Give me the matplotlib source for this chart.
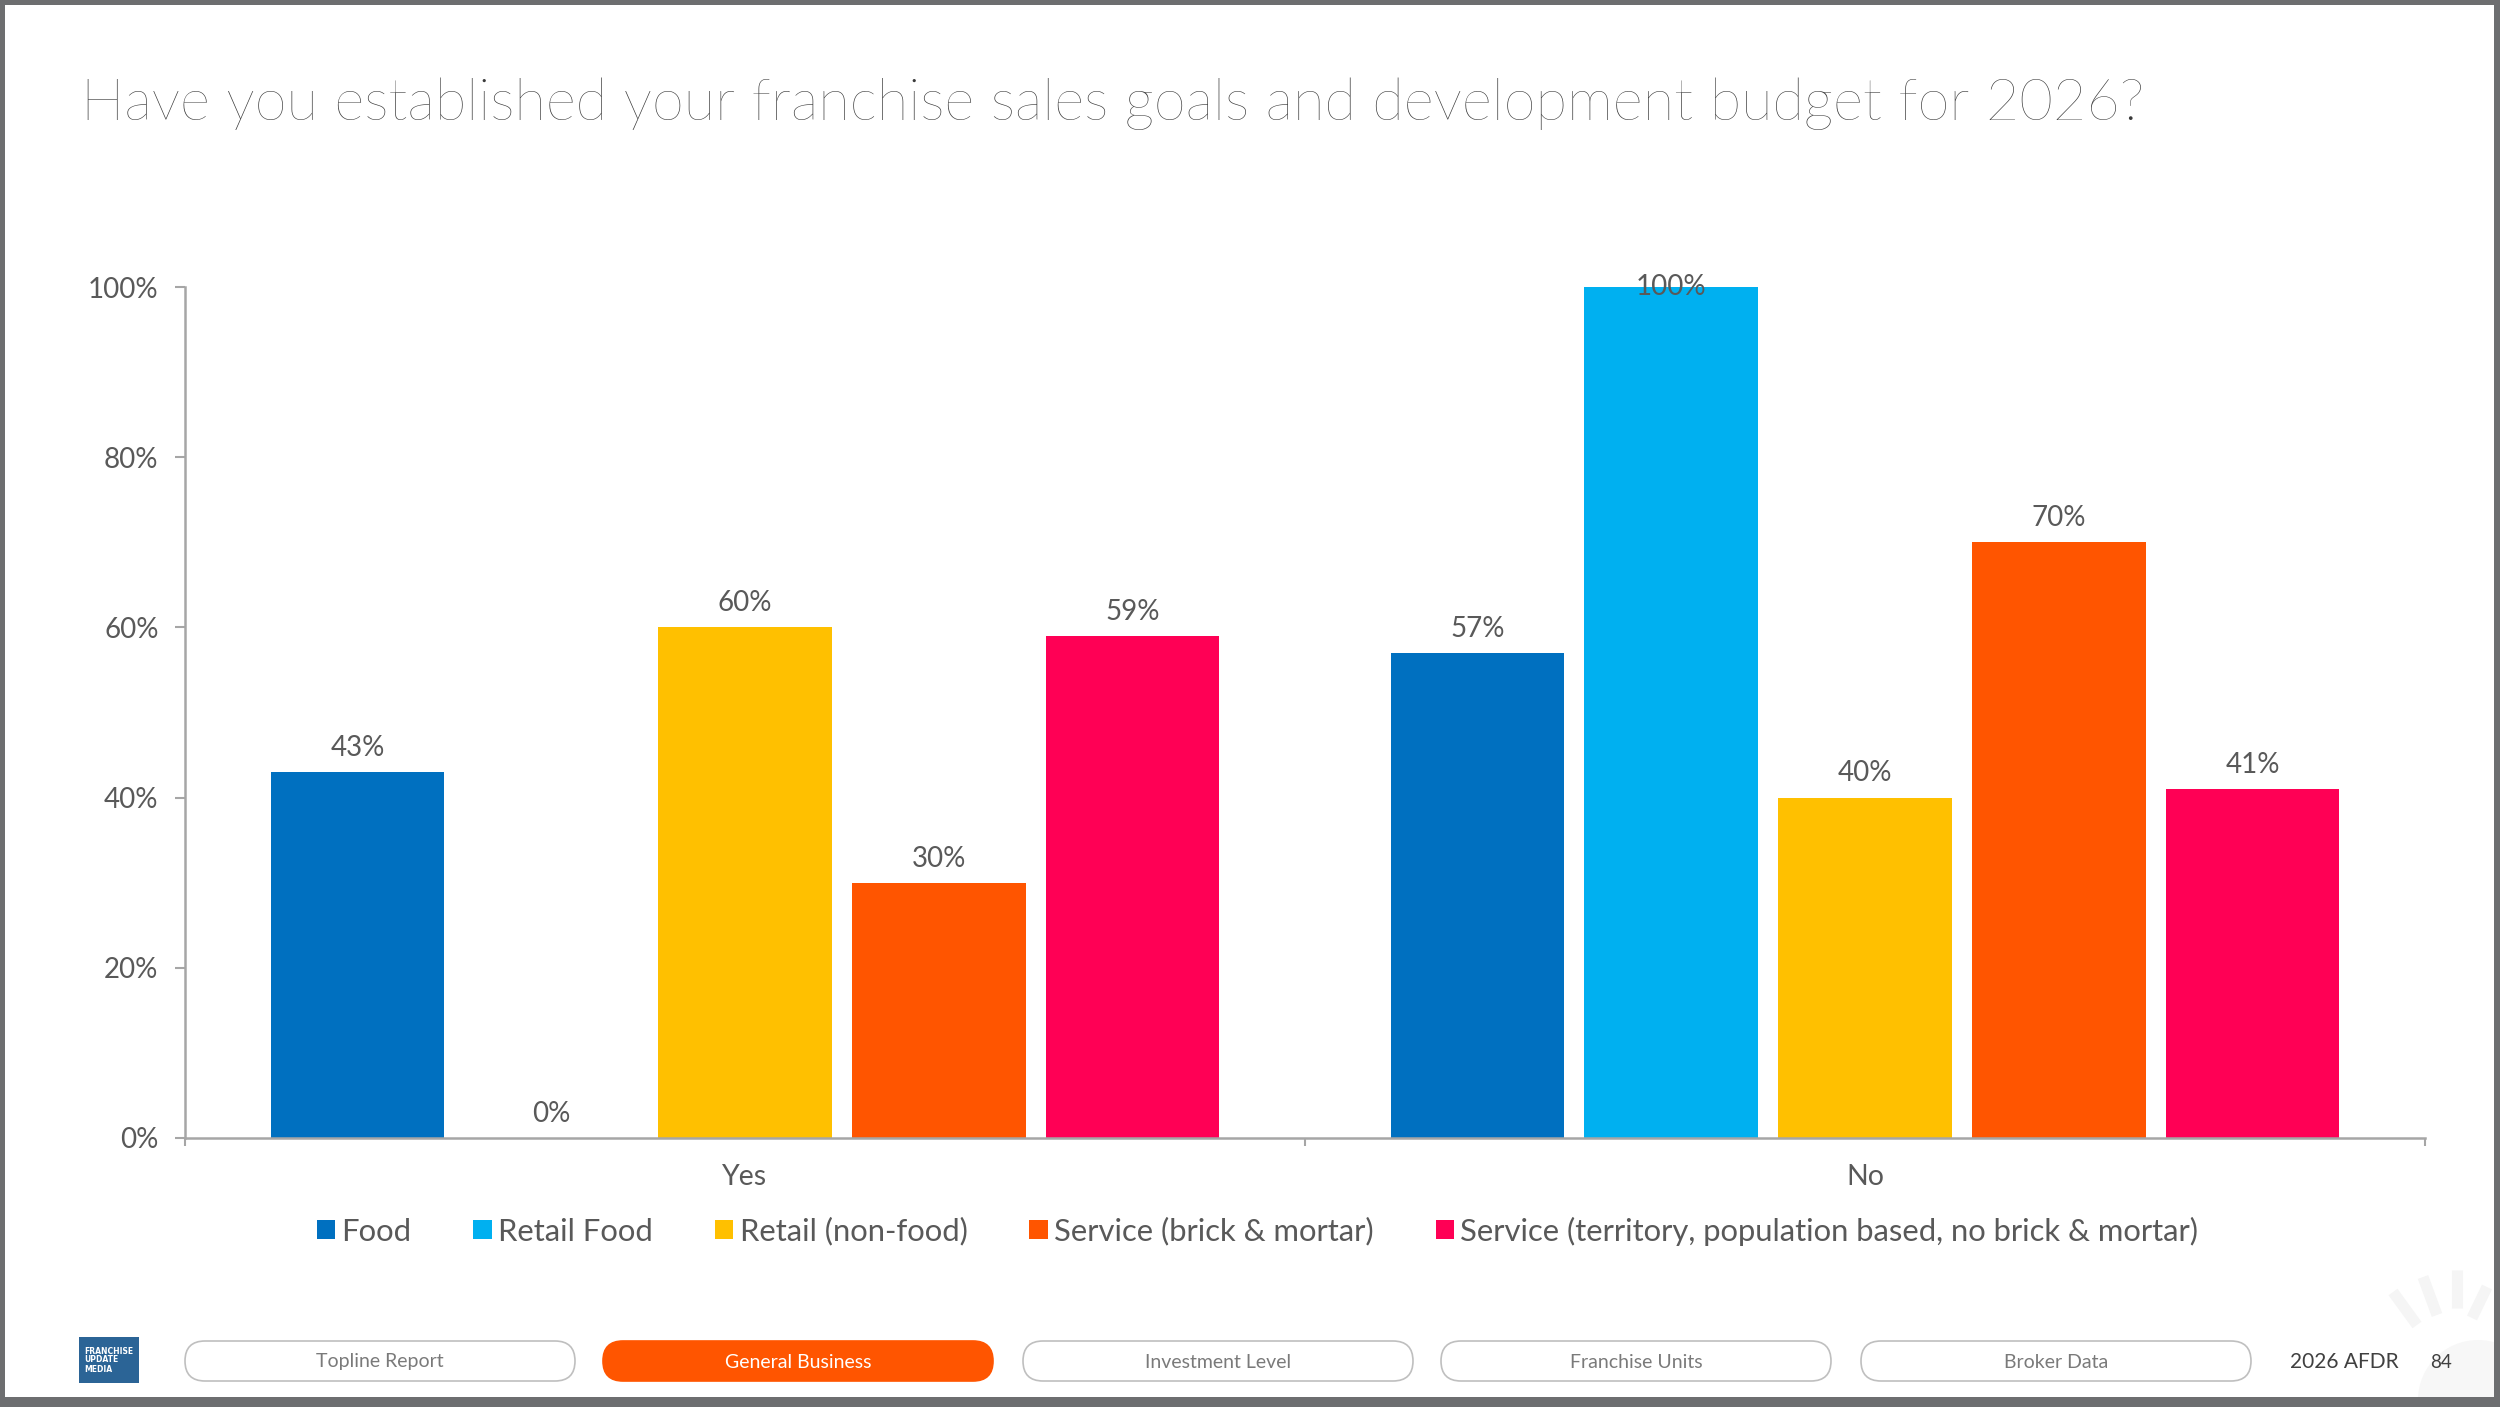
import numpy as np
import matplotlib.pyplot as plt
from matplotlib.patches import Rectangle, FancyBboxPatch, Circle

# data
groups = ['Yes', 'No']
series = ['Food', 'Retail Food', 'Retail (non-food)', 'Service (brick & mortar)',
          'Service (territory, population based, no brick & mortar)']
values = {
    'Food': [0.43, 0.57],
    'Retail Food': [0.00, 1.00],
    'Retail (non-food)': [0.60, 0.40],
    'Service (brick & mortar)': [0.30, 0.70],
    'Service (territory, population based, no brick & mortar)': [0.59, 0.41],
}
colors = ['#0070C0', '#00B0F0', '#FFC000', '#FF5500', '#FF0055']
y_ticks = [0, 0.2, 0.4, 0.6, 0.8, 1.0]
nav_tabs = ['Topline Report', 'General Business', 'Investment Level', 'Franchise Units', 'Broker Data']
active_tab = 'General Business'

W, H = 2500, 1407
plt.rcParams['font.family'] = ['Lato', 'DejaVu Sans']
fig = plt.figure(figsize=(W / 100, H / 100), dpi=100)

# overlay in pixel coordinates for slide decorations
deco = fig.add_axes([0, 0, 1, 1])
deco.set_xlim(0, W)
deco.set_ylim(H, 0)
deco.axis('off')

# faint icon bottom right
light = '#f5f5f5'
for (x0, y0, x1, y1) in [(2393, 1292, 2417, 1325), (2423, 1277, 2437, 1315),
                         (2457, 1270, 2457, 1308), (2487, 1287, 2472, 1318)]:
    deco.plot([x0, x1], [y0, y1], color=light, lw=8, solid_capstyle='butt')
deco.add_patch(Circle((2478, 1400), 60, color='#f7f7f7', lw=0))

# slide frame
gray = '#6d6e70'
deco.add_patch(Rectangle((0, 0), W, 5, color=gray, lw=0))
deco.add_patch(Rectangle((0, 0), 5, H, color=gray, lw=0))
deco.add_patch(Rectangle((W - 6, 0), 6, H, color=gray, lw=0))
deco.add_patch(Rectangle((0, H - 10), W, 10, color=gray, lw=0))

# title
deco.text(81, 104, 'Have you established your franchise sales goals and development budget for 2026?',
          fontsize=41.7, fontweight='light', color='#3a3a3a', va='center', ha='left')

# footer: logo, tabs, page info
deco.add_patch(Rectangle((79, 1337), 60, 46, color='#2b6496', lw=0))
deco.text(84, 1360, 'FRANCHISE\nUPDATE\nMEDIA', fontsize=5.5, fontweight='bold', color='white',
          va='center', ha='left', linespacing=1.0, family='Liberation Sans Narrow')
tab_x = [185, 603, 1023, 1441, 1861]
for x, name in zip(tab_x, nav_tabs):
    on = name == active_tab
    deco.add_patch(FancyBboxPatch((x, 1341), 390, 40, boxstyle='round,pad=0,rounding_size=20',
                                  fc='#FF5500' if on else 'white', ec='#FF5500' if on else '#bfbfbf',
                                  lw=1.2, zorder=2))
    deco.text(x + 195, 1362, name, fontsize=14, color='white' if on else '#7a7a7a',
              ha='center', va='center', zorder=3)
deco.text(2290, 1362, '2026 AFDR', fontsize=15, color='#404040', ha='left', va='center')
deco.text(2430, 1362, '84', fontsize=13.5, color='#404040', ha='left', va='center')

# chart
ax = fig.add_axes([185 / W, 1 - 1138 / H, (2425 - 185) / W, (1138 - 287) / H])
x = np.arange(len(groups))
step, width = 0.173, 0.155
for i, (name, c) in enumerate(zip(series, colors)):
    pos = x + (i - 2) * step
    vals = values[name]
    ax.bar(pos, vals, width, color=c, label=name, zorder=2)
    for p, v in zip(pos, vals):
        if v + 0.04 > 1.0:
            ax.text(p, 1.0, f'{v:.0%}', ha='center', va='center', fontsize=20, color='#595959', clip_on=False)
        else:
            ax.annotate(f'{v:.0%}', (p, v), xytext=(0, 8), textcoords='offset points',
                        ha='center', va='bottom', fontsize=20, color='#595959')

ax.set_xlim(-0.5, 1.5)
ax.set_ylim(0, 1.0)
ax.set_yticks(y_ticks)
ax.set_yticklabels([f'{t:.0%}' for t in y_ticks])
ax.set_xticks(x)
ax.set_xticklabels(groups)
ax.set_xticks([-0.5, 0.5, 1.5], minor=True)
for s in ['top', 'right']:
    ax.spines[s].set_visible(False)
for s in ['left', 'bottom']:
    ax.spines[s].set_color('#a6a6a6')
    ax.spines[s].set_linewidth(1.8)
ax.tick_params(axis='y', length=7, width=1.5, color='#a6a6a6', pad=12, labelsize=20, labelcolor='#595959')
ax.tick_params(axis='x', which='major', length=0, pad=19, labelsize=20.5, labelcolor='#595959')
ax.tick_params(axis='x', which='minor', length=6, width=1.5, color='#a6a6a6')

fig.legend(loc='center', bbox_to_anchor=(0.503, 1 - 1231 / H), ncol=5, frameon=False,
           fontsize=22.3, labelcolor='#595959', handlelength=0.6, handleheight=0.6,
           handletextpad=0.2, columnspacing=2.0)

fig.savefig('out.png', dpi=100, facecolor='white')
